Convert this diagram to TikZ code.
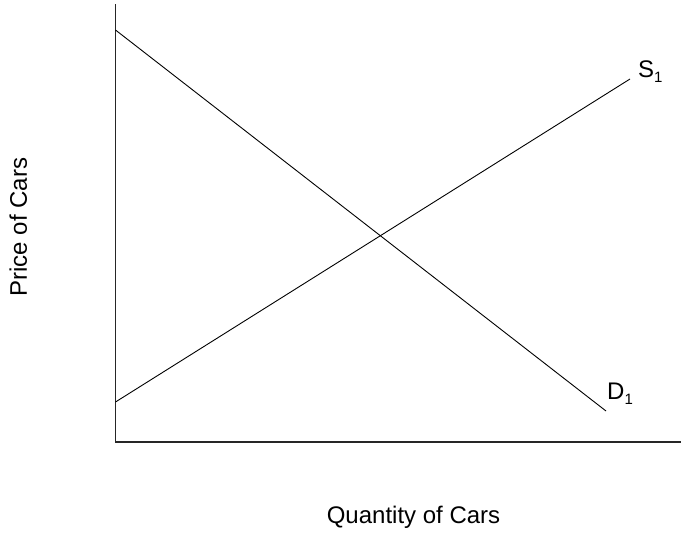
\documentclass[tikz,border=0pt]{standalone}
\usepackage{fontspec}
\setmainfont{Liberation Sans}
\newcommand{\mysub}[1]{\raisebox{-5pt}{\fontsize{15}{17}\selectfont #1}}
\begin{document}
\begin{tikzpicture}[x=1pt,y=-1pt,
  lbl/.style={font=\fontsize{24}{28}\selectfont, inner sep=0pt},
  curve/.style={line width=0.9pt, black},
  axis/.style={line width=1.1pt, black!85}]
\useasboundingbox (0,0) rectangle (681,533);
\coordinate (top) at (115.5,4);
\coordinate (origin) at (115.5,442);
\coordinate (right) at (681,442);
\coordinate (d0) at (115.5,30);
\coordinate (d1) at (606,411);
\coordinate (s0) at (115.5,402);
\coordinate (s1) at (630,79);
\draw[axis] (top) -- (origin) -- (right);
\draw[curve] (d0) -- (d1);
\draw[curve] (s0) -- (s1);
\node[lbl, anchor=base west] (slab) at (638,77) {S\mysub{1}};
\node[lbl, anchor=base west] (dlab) at (607,399) {D\mysub{1}};
\node[lbl, anchor=base] (xlab) at (413.5,523) {Quantity of Cars};
\node[lbl, rotate=90, anchor=base] (ylab) at (27,227) {Price of Cars};
\end{tikzpicture}
\end{document}
